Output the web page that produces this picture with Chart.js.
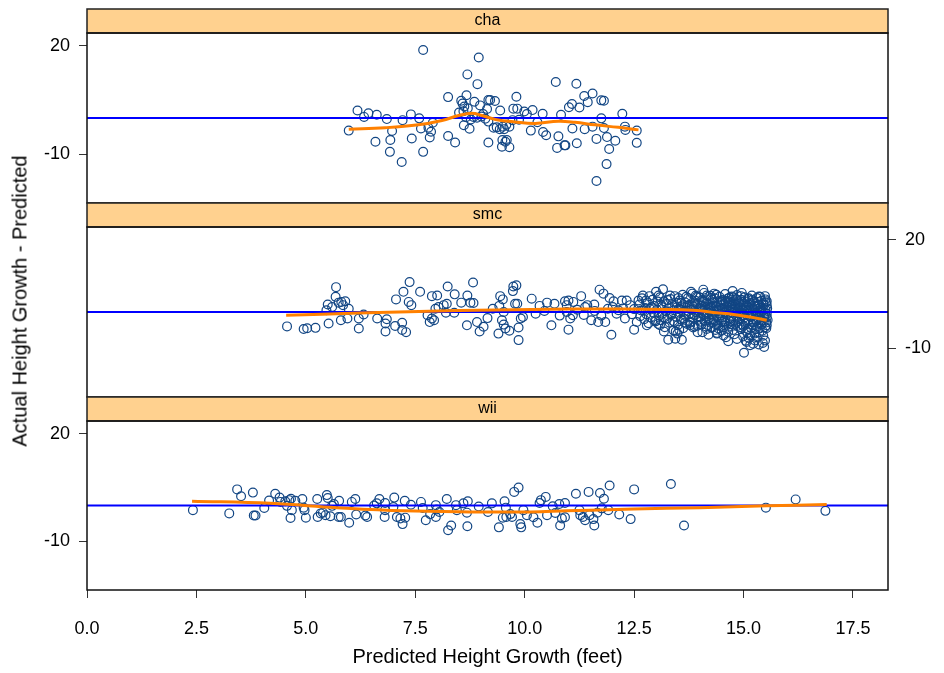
<!DOCTYPE html>
<html>
<head>
<meta charset="utf-8">
<title>Residuals by species</title>
<script src="https://cdn.jsdelivr.net/npm/chart.js@4.4.1/dist/chart.umd.min.js"></script>
<style>
  body { margin: 0; background: #fff; }
  #wrap { position: relative; width: 944px; height: 673px; overflow: hidden; }
  #wrap canvas { position: absolute; left: 0; top: 0; }
  #ytitle {
    position: absolute; left: 20px; top: 301px;
    transform: translate(-50%, -50%) rotate(-90deg);
    white-space: nowrap; color: #000;
    font: 20px "Liberation Sans", Arial, sans-serif;
  }
</style>
</head>
<body>
<div id="wrap">
  <canvas id="c0" width="944" height="673"></canvas>
  <canvas id="c1" width="944" height="673"></canvas>
  <canvas id="c2" width="944" height="673"></canvas>
  <div id="ytitle">Actual Height Growth - Predicted</div>
</div>
<script>
// data
const panels = ['cha', 'smc', 'wii'];
const xTicks = [0, 2.5, 5, 7.5, 10, 12.5, 15, 17.5];
const yTicks = [-10, 20];

const chaPoints = [
  [7.68,18.9],[8.95,16.8],[8.69,12.1],[8.92,9.4],[10.71,10.0],[11.18,9.5],[8.25,5.8],[8.67,6.3],
  [8.55,4.8],[8.58,4.0],[8.85,4.5],[8.98,3.5],[9.17,5.0],[9.21,5.0],[9.32,4.7],[9.81,5.9],
  [9.44,2.1],[9.14,2.5],[9.74,2.6],[9.83,2.6],[9.99,1.8],[10.18,2.2],[10.41,1.2],[10.83,0.9],
  [11.01,3.0],[11.08,3.9],[11.25,2.9],[11.36,6.1],[11.44,4.4],[11.55,6.8],[11.75,4.9],[11.81,4.8],
  [12.23,1.2],[11.75,-0.1],[6.18,2.1],[6.33,0.3],[6.43,1.3],[6.62,0.9],[6.85,-0.3],[7.21,-0.6],
  [7.40,1.0],[7.59,-0.1],[5.98,-3.5],[6.97,-3.6],[6.59,-6.6],[6.93,-6.1],[6.92,-9.4],[7.19,-12.2],
  [7.42,-5.7],[7.68,-9.4],[7.63,-2.9],[7.83,-5.4],[7.86,-3.8],[7.80,-2.7],[7.90,-1.3],[8.25,-5.0],
  [8.41,-6.8],[8.61,-2.0],[8.74,-3.0],[8.50,1.5],[8.60,1.9],[8.66,0.2],[8.83,0.3],[8.91,0.1],
  [9.05,1.1],[9.17,-1.0],[9.29,-2.7],[9.43,-3.1],[9.53,-3.1],[9.65,-2.4],[9.17,-6.8],[9.49,-6.1],
  [9.59,-6.1],[9.48,-8.0],[9.65,-8.1],[9.72,-0.6],[9.87,-0.5],[10.05,1.1],[10.14,-3.5],[10.29,-1.2],
  [10.42,-3.9],[10.49,-4.8],[10.77,-5.1],[10.74,-8.3],[10.91,-7.6],[10.93,-7.6],[11.09,-2.9],[11.19,-7.0],
  [11.37,-3.1],[11.55,-2.4],[11.64,-5.8],[11.81,-2.8],[11.88,-5.3],[11.93,-8.6],[11.87,-12.8],[11.64,-17.5],
  [12.07,-6.3],[12.29,-2.4],[12.30,-3.3],[12.56,-3.5],[12.56,-6.9],[9.36,-2.6],[9.50,-2.4],[9.58,-1.9],
  [9.01,0.4],[9.10,-0.2],[8.62,3.2],[8.70,2.7],[9.56,-6.6],[8.77,-0.4]
];
const chaSmooth = [
  [5.98,-3.1],[6.81,-2.7],[7.57,-1.9],[8.11,-0.7],[8.49,0.7],[8.79,1.3],[9.02,0.7],[9.33,-0.4],
  [9.78,-1.1],[10.24,-1.5],[10.77,-0.9],[11.15,-1.2],[11.6,-1.9],[12.14,-2.6],[12.6,-3.3]
];

const smcPoints = [
  [4.57,-4.0],[4.95,-4.7],[5.03,-4.5],[5.22,-4.4],[5.52,-3.2],[5.69,6.9],[5.68,4.2],[5.50,2.1],
  [5.47,0.5],[5.60,1.4],[5.75,2.6],[5.81,2.8],[5.85,1.9],[5.90,3.0],[5.98,0.9],[5.80,-2.3],
  [5.95,-1.8],[6.21,-4.6],[6.21,-1.8],[6.32,-0.7],[6.63,-1.8],[6.82,-3.2],[6.85,-2.0],[6.82,-5.4],
  [7.04,-3.9],[7.06,3.5],[7.20,-3.0],[7.20,-5.0],[7.29,-5.6],[7.23,5.6],[7.37,8.3],[7.35,2.8],
  [7.41,1.9],[7.61,5.6],[7.78,-0.9],[7.83,-2.8],[7.88,-1.8],[7.93,-2.3],[7.88,4.4],[8.00,4.6],
  [7.96,0.9],[8.03,1.4],[8.15,1.9],[8.22,2.3],[8.24,7.1],[8.20,-0.2],[8.39,-0.2],[8.40,4.9],
  [8.55,2.6],[8.69,4.6],[8.82,8.2],[8.68,-3.7],[8.76,2.6],[8.83,2.5],[8.91,-2.8],[8.97,-5.4],
  [9.06,-4.1],[9.15,-1.7],[9.27,0.9],[9.40,-6.0],[9.44,4.4],[9.50,3.5],[9.42,1.7],[9.52,0.0],
  [9.48,-2.3],[9.52,-3.5],[9.56,-4.6],[9.65,-5.2],[9.74,7.1],[9.81,7.4],[9.73,5.8],[9.78,2.3],
  [9.83,2.3],[9.86,-4.3],[9.86,-7.8],[9.91,-1.8],[9.96,-1.4],[10.16,3.7],[10.34,1.7],[10.51,2.6],
  [10.61,-3.7],[10.68,2.3],[10.25,-0.5],[10.45,0.3],[10.8,-1.0],
  [10.96,0.0],[11.0,-4.9],[10.92,3.0],[11.0,3.2],[10.96,1.9],[11.11,2.8],[11.29,4.4],[11.04,-1.8],
  [11.10,-0.9],[11.38,1.4],[11.43,1.9],[11.59,2.1],[11.52,-2.3],[11.68,-2.8],[11.84,-2.8],[11.71,6.2],
  [11.80,5.1],[11.94,3.9],[11.98,-6.3],[12.01,1.4],[12.03,3.0],[12.14,0.5],[12.22,3.2],[12.29,-1.8],
  [12.33,3.2],[12.41,1.9],[12.50,-4.9],[12.56,-2.8],[12.60,3.2],[12.70,4.6],[12.77,3.2],[12.71,0.5],
  [12.79,-3.7],[12.85,4.4],[12.90,1.4],[12.98,-2.3],[13.0,5.6],[13.06,4.6],[13.16,6.3],[13.09,-3.7],
  [13.18,-5.4],[13.28,-7.7],[13.40,-5.1],[13.45,-5.4],[13.44,-7.4],[13.49,-6.0],[13.59,-7.7],[13.32,4.6],
  [13.51,3.9],[13.78,-3.7],[13.80,5.6],[13.93,4.2],[14.08,6.2],[14.16,4.6],[14.06,-5.6],[14.27,-4.4],
  [14.33,5.1],[14.39,-6.0],[14.54,-6.5],[14.65,-8.1],[14.75,5.8],[14.96,5.3],[15.01,-11.3],[15.07,-8.3],
  [15.22,-8.8],[15.26,-7.9],[15.38,4.2],[15.49,4.4],[15.47,-9.7],[15.49,-7.9],[15.53,1.9],[15.53,-1.4],
  [15.53,-3.7],[11.2,0.6],[11.35,-0.8],[11.6,0.3],[11.75,-1.0],[11.9,0.9],[12.1,-0.5],[12.25,1.0],
  [12.45,-0.6],[12.5,0.8],
  [12.62,2.1],[12.64,-1.2],[12.66,0.4],[12.68,3.8],[12.73,-2.0],[12.75,1.1],[12.78,-0.6],[12.81,2.6],
  [12.83,-3.1],[12.86,0.9],[12.88,-1.5],[12.92,3.4],[12.94,-0.2],[12.96,1.7],[12.99,-2.6],
  [13.02,0.6],[13.04,2.9],[13.07,-1.0],[13.09,4.1],[13.11,-2.3],[13.13,1.4],[13.15,-0.5],[13.18,3.0],
  [13.20,-4.2],[13.22,0.2],[13.24,2.2],[13.26,-1.8],[13.29,1.0],[13.31,-3.0],[13.33,3.6],[13.35,-0.8],
  [13.37,1.9],[13.39,-2.5],[13.41,0.5],[13.43,4.4],[13.46,-1.3],[13.48,2.5],[13.50,-3.6],
  [13.52,0.9],[13.54,3.2],[13.55,-0.3],[13.57,-2.1],[13.59,1.6],[13.61,4.8],[13.62,-4.5],[13.64,0.0],
  [13.66,2.7],[13.68,-1.1],[13.70,1.2],[13.71,-3.3],[13.73,3.9],[13.75,-0.6],[13.77,2.0],[13.79,-2.7],
  [13.81,0.7],[13.83,5.1],[13.84,-1.6],[13.86,1.5],[13.88,-4.0],[13.90,3.1],[13.92,-0.1],[13.94,2.3],
  [13.96,-2.2],[13.98,0.4],
  [14.00,4.0],[14.01,-1.4],[14.03,1.8],[14.04,-3.5],[14.06,0.3],[14.07,2.8],[14.09,-0.9],[14.10,5.3],
  [14.12,-2.4],[14.13,1.0],[14.15,3.5],[14.16,-4.7],[14.18,-0.2],[14.19,2.1],[14.21,-1.7],[14.22,0.8],
  [14.24,4.5],[14.25,-3.0],[14.27,1.3],[14.28,-0.6],[14.30,2.6],[14.31,-2.0],[14.33,0.1],[14.34,3.8],
  [14.36,-5.0],[14.37,1.6],[14.39,-1.2],[14.40,2.9],[14.42,-3.8],[14.43,0.6],[14.45,4.2],[14.46,-0.4],
  [14.48,1.9],[14.49,-2.6],
  [14.50,0.9],[14.51,3.3],[14.53,-1.5],[14.54,-4.3],[14.55,2.2],[14.57,0.0],[14.58,5.0],[14.59,-2.9],
  [14.61,1.4],[14.62,-0.8],[14.63,3.7],[14.65,-5.5],[14.66,0.5],[14.67,2.5],[14.69,-1.9],[14.70,1.1],
  [14.71,-3.4],[14.73,4.3],[14.74,-0.3],[14.75,1.7],[14.77,-2.3],[14.78,3.0],[14.79,-6.2],[14.81,0.2],
  [14.82,2.0],[14.83,-1.1],[14.85,4.7],[14.86,-3.9],[14.87,0.8],[14.89,-0.5],[14.90,2.7],[14.91,-2.1],
  [14.93,1.3],[14.94,-4.8],[14.95,3.4],[14.97,-0.9],[14.98,0.4],[14.99,-6.8],
  [15.00,2.3],[15.01,-1.6],[15.02,4.1],[15.04,-3.2],[15.05,0.6],[15.06,-5.3],[15.07,1.8],[15.09,-0.4],
  [15.10,3.6],[15.11,-2.5],[15.12,-7.2],[15.14,0.0],[15.15,2.6],[15.16,-1.3],[15.17,-4.4],[15.19,4.6],
  [15.20,1.0],[15.21,-3.0],[15.22,-0.7],[15.24,2.9],[15.25,-6.0],[15.26,1.5],[15.27,-2.0],[15.29,-0.2],
  [15.30,3.9],[15.31,-4.0],[15.32,0.9],[15.34,-1.8],[15.35,2.1],[15.36,-5.6],[15.37,-0.9],[15.39,1.2],
  [15.40,-3.5],[15.41,3.1],[15.42,-2.4],[15.44,0.3],[15.45,-6.6],[15.46,1.9],[15.47,-1.1],[15.49,-4.2],
  [15.50,0.7],[15.51,2.6],[15.52,-2.9],[15.53,-0.5],
  [13.05,-3.3],[13.12,2.0],[13.19,-1.5],[13.27,3.3],[13.34,-0.3],[13.42,-2.8],[13.47,1.3],[13.53,-4.9],
  [13.58,2.6],[13.63,-1.8],[13.69,4.2],[13.74,0.3],[13.78,-3.0],[13.82,1.9],[13.87,-0.8],[13.91,4.6],
  [13.95,-3.8],[13.99,1.1],[14.02,-2.7],[14.05,3.3],[14.08,-0.5],[14.11,1.5],[14.14,-4.0],[14.17,2.4],
  [14.20,0.5],[14.23,-2.2],[14.26,3.9],[14.29,-1.0],[14.32,1.8],[14.35,-3.3],[14.38,4.8],[14.41,0.2],
  [14.44,-1.9],[14.47,2.8],[14.50,-5.2],[14.52,1.2],[14.56,-2.6],[14.58,3.1],[14.60,-0.1],[14.64,1.9],
  [14.66,-4.1],[14.68,4.0],[14.72,-1.3],[14.74,2.4],[14.76,-5.0],[14.80,0.9],[14.84,3.5],[14.86,-2.7],
  [14.88,1.6],[14.92,-0.3],[14.94,4.4],[14.96,-3.5],[14.99,1.9],[15.01,-0.9],[15.03,3.0],[15.05,-2.2],
  [15.08,0.3],[15.10,-4.7],[15.13,2.0],[15.15,-6.5],[15.18,-1.0],[15.20,3.3],[15.23,-2.8],[15.25,0.5],
  [15.28,-4.8],[15.30,1.8],[15.33,-0.6],[15.35,4.3],[15.38,-3.0],[15.40,0.0],[15.43,-5.2],[15.45,2.4],
  [15.48,-1.6],[15.50,3.5],[15.52,-4.5],[15.54,1.0],[15.55,-2.2],[14.60,-7.0],[14.85,-7.5],[15.05,-8.0],
  [15.30,-7.0],[15.44,-8.6],[14.40,-5.8],[14.20,-6.3],[13.95,-5.6],[15.15,-9.2],[15.35,-9.0],
  [13.56,0.6],[13.66,-2.9],[13.72,1.7],[13.85,-4.3],[13.89,2.6],[13.97,-1.2],[14.03,0.9],[14.09,3.0],
  [14.14,-0.7],[14.19,-3.6],[14.24,1.2],[14.29,3.4],[14.33,-2.3],[14.38,0.7],[14.43,-4.6],[14.47,-0.9],
  [14.52,2.9],[14.56,-3.7],[14.61,0.4],[14.65,3.0],[14.70,-2.6],[14.73,0.7],[14.77,4.1],[14.81,-3.3],
  [14.84,-0.2],[14.89,2.2],[14.92,-4.2],[14.97,1.0],[15.00,-3.9],[15.04,1.2],[15.09,-5.8],[15.12,3.8],
  [15.16,0.6],[15.21,-3.6],[15.24,1.7],[15.29,-2.4],[15.33,2.8],[15.37,-4.6],[15.41,0.6],[15.46,-2.8],
  [15.50,-0.3],[15.53,3.0]
];
const smcSmooth = [
  [4.55,-0.9],[6.2,-0.3],[8.5,0.4],[11.0,0.8],[12.3,0.8],[13.85,0.5],[14.39,-0.2],[14.77,-0.7],
  [15.15,-1.4],[15.53,-2.3]
];

const wiiPoints = [
  [2.42,-1.3],[3.25,-2.2],[3.43,4.5],[3.52,2.6],[3.79,3.6],[3.81,-2.8],[3.85,-2.8],[4.05,-0.7],
  [4.16,1.4],[4.30,3.3],[4.40,2.2],[4.42,1.0],[4.53,1.2],[4.57,-0.1],[4.62,1.5],[4.66,1.9],
  [4.76,1.3],[4.68,-1.3],[4.65,-3.5],[4.92,1.8],[4.95,-0.6],[5.0,-3.4],[4.97,-1.3],[5.26,1.8],
  [5.27,-3.2],[5.34,-2.2],[5.39,-2.0],[5.45,-2.7],[5.48,2.9],[5.50,2.1],[5.56,-3.0],[5.60,-0.1],
  [5.64,0.4],[5.76,1.3],[5.75,-3.2],[5.80,-3.2],[5.99,-4.8],[6.05,1.0],[6.13,1.8],[6.15,-2.5],
  [6.36,-2.8],[6.40,-3.2],[6.56,0.0],[6.62,0.6],[6.68,1.8],[6.81,0.7],[6.80,-3.2],[6.81,-1.3],
  [7.02,2.2],[7.00,-0.4],[7.08,-3.2],[7.16,-3.6],[7.21,-5.2],[7.27,-3.4],[7.26,1.3],[7.40,0.2],
  [7.63,1.0],[7.67,-0.7],[7.74,-4.1],[7.84,-2.4],[7.97,0.1],[7.97,-3.2],[7.99,-1.1],[8.05,-1.8],
  [8.22,1.8],[8.25,-6.9],[8.32,-5.6],[8.43,0.1],[8.45,-1.3],[8.60,0.6],[8.70,1.2],[8.68,-2.0],
  [8.69,-5.8],[8.95,-0.3],[9.25,0.6],[9.16,-1.8],[9.41,-6.1],[9.54,1.2],[9.57,-0.6],[9.50,-3.4],
  [9.58,-3.2],[9.67,-2.4],[9.76,3.8],[9.86,5.0],[9.90,-5.2],[9.92,-6.1],[10.05,-2.7],[9.97,-1.3],
  [9.71,-3.2],[10.20,-3.3],[10.29,-4.8],[10.34,0.7],[10.37,1.5],[10.48,2.4],[10.51,-2.7],[10.64,-0.2],
  [10.70,-2.1],[10.79,0.4],[10.81,-5.6],[10.85,-3.6],[10.92,-3.3],[10.92,0.7],[11.17,3.3],[11.25,-1.3],
  [11.27,-2.7],[11.33,-3.2],[11.38,-4.1],[11.46,3.8],[11.48,-2.7],[11.57,-3.8],[11.59,-5.6],[11.66,-2.0],
  [11.72,3.5],[11.81,1.9],[11.76,-0.8],[11.91,-1.3],[11.94,5.6],[12.16,-2.5],[12.42,-3.8],[12.50,4.5],
  [13.34,6.0],[13.64,-5.6],[15.51,-0.6],[16.19,1.7],[16.87,-1.5]
];
const wiiSmooth = [
  [2.40,1.2],[4.19,0.6],[5.71,-0.6],[7.23,-1.5],[8.76,-1.8],[10.13,-1.8],[10.96,-1.5],[12.48,-1.0],
  [14.0,-0.6],[15.53,-0.1],[16.9,0.3]
];

const pointSets = [chaPoints, smcPoints, wiiPoints];
const smoothSets = [chaSmooth, smcSmooth, wiiSmooth];

// layout
const W = 944, H = 673;
const PANEL_LEFT = 87, PANEL_RIGHT = 888;
const boxes = [{ top: 33, bottom: 203 }, { top: 227, bottom: 397 }, { top: 421, bottom: 590 }];
const STRIP_H = 24;
const AXIS_W = 50;
const FONT = '"Liberation Sans", Arial, sans-serif';

const toXY = arr => arr.map(p => ({ x: p[0], y: p[1] }));

const panelPlugin = {
  id: 'panel',
  beforeDraw(chart, args, opts) {
    const { ctx, chartArea: a } = chart;
    ctx.save();
    ctx.fillStyle = '#ffd18f';
    ctx.fillRect(a.left, a.top - STRIP_H, a.right - a.left, STRIP_H);
    ctx.strokeStyle = '#222';
    ctx.lineWidth = 1.5;
    ctx.strokeRect(a.left, a.top - STRIP_H, a.right - a.left, STRIP_H);
    ctx.fillStyle = '#000';
    ctx.font = '16px ' + FONT;
    ctx.textAlign = 'center';
    ctx.textBaseline = 'middle';
    ctx.fillText(opts.label, (a.left + a.right) / 2, a.top - STRIP_H / 2);
    ctx.restore();
  },
  afterDatasetDraw(chart, args) {
    if (args.index !== 1) return;
    // reference line at zero, drawn over the points and under the smoother
    const { ctx, chartArea: a } = chart;
    const y0 = chart.scales.y.getPixelForValue(0);
    ctx.save();
    ctx.strokeStyle = '#0000ff';
    ctx.lineWidth = 2;
    ctx.beginPath();
    ctx.moveTo(a.left, y0);
    ctx.lineTo(a.right, y0);
    ctx.stroke();
    ctx.restore();
  },
  afterDraw(chart) {
    const { ctx, chartArea: a } = chart;
    ctx.save();
    ctx.strokeStyle = '#111';
    ctx.lineWidth = 1.5;
    ctx.strokeRect(a.left, a.top, a.right - a.left, a.bottom - a.top);
    ctx.restore();
  }
};

panels.forEach((name, i) => {
  const box = boxes[i];
  const yPos = i === 1 ? 'right' : 'left';
  const last = i === panels.length - 1;

  new Chart(document.getElementById('c' + i), {
    type: 'scatter',
    data: {
      datasets: [
        {
          data: toXY(smoothSets[i]),
          showLine: true,
          borderColor: '#ff8000',
          borderWidth: 3,
          pointRadius: 0,
          tension: 0.4,
          fill: false
        },
        {
          data: toXY(pointSets[i]),
          pointRadius: 4.4,
          pointBorderWidth: 1.2,
          borderColor: '#124684',
          backgroundColor: 'rgba(0,0,0,0)'
        }
      ]
    },
    options: {
      responsive: false,
      animation: false,
      events: [],
      layout: {
        padding: {
          top: box.top,
          bottom: last ? 0 : H - box.bottom,
          left: yPos === 'left' ? PANEL_LEFT - AXIS_W : PANEL_LEFT,
          right: yPos === 'right' ? W - PANEL_RIGHT - AXIS_W : W - PANEL_RIGHT
        }
      },
      plugins: {
        legend: { display: false },
        tooltip: { enabled: false },
        panel: { label: name }
      },
      scales: {
        x: {
          type: 'linear',
          min: 0,
          max: 18.3,
          display: last,
          afterBuildTicks: s => { s.ticks = xTicks.map(v => ({ value: v })); },
          afterFit: s => { if (last) s.height = H - box.bottom; },
          ticks: {
            autoSkip: false,
            maxRotation: 0,
            padding: 20,
            color: '#000',
            font: { family: FONT, size: 18 },
            callback: v => v.toFixed(1)
          },
          grid: { drawOnChartArea: false, tickLength: 8, color: '#333' },
          border: { display: false },
          title: {
            display: true,
            text: 'Predicted Height Growth (feet)',
            color: '#000',
            font: { family: FONT, size: 20 },
            padding: { top: 0, bottom: 4 }
          }
        },
        y: {
          type: 'linear',
          position: yPos,
          min: -23.6,
          max: 23.6,
          afterBuildTicks: s => { s.ticks = yTicks.map(v => ({ value: v })); },
          afterFit: s => { s.width = AXIS_W; },
          ticks: {
            padding: 9,
            color: '#000',
            font: { family: FONT, size: 18 },
            callback: v => String(v)
          },
          grid: { drawOnChartArea: false, tickLength: 8, color: '#333' },
          border: { display: false }
        }
      }
    },
    plugins: [panelPlugin]
  });
});
</script>
</body>
</html>
